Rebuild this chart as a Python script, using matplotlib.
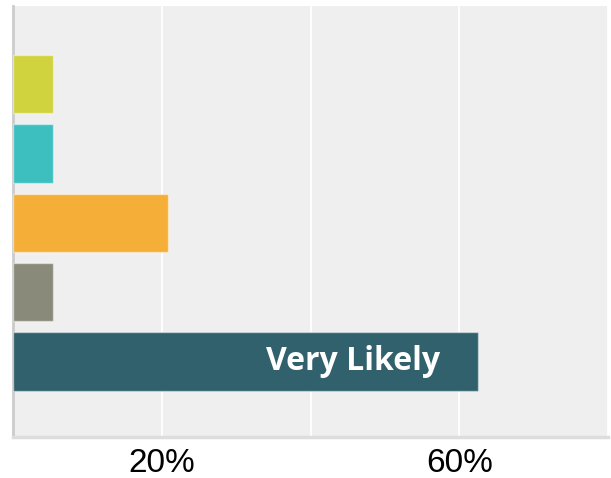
import matplotlib.pyplot as plt

categories = ['Very Unlikely', 'Unlikely', 'Somewhat Likely', 'Not Sure', 'Very Likely']
values = [5.4, 5.4, 20.8, 5.4, 62.5]
colors = ['#d0d33e', '#3dbfc0', '#f5ae37', '#8a8a7b', '#30616c']
ticks = [20, 40, 60, 80]
tick_labels = ['20%', '', '60%', '']

fig = plt.figure(figsize=(6.11, 4.78), dpi=100)
ax = fig.add_axes([13 / 611, 41 / 478, 595 / 611, 431 / 478])
ax.set_facecolor('#efefef')

pos = list(range(len(categories)))
ax.barh(pos, values, height=0.84, color=colors, edgecolor=(1, 1, 1, 0.45), linewidth=1, zorder=3)

for p, v, c in zip(pos, values, categories):
    if v > 30:
        ax.text(v - 5.1, p, c, ha='right', va='center', color='white',
                fontsize=23, fontweight='bold', family='Open Sans', zorder=4)

ax.set_xlim(0, 79.7)
ax.set_ylim(5.09, -1.13)
ax.set_xticks(ticks)
ax.set_xticklabels(tick_labels, fontsize=24, family='Liberation Sans')
ax.set_yticks([])
ax.tick_params(axis='x', length=0, pad=8)
ax.grid(axis='x', color='white', linewidth=1.3, zorder=1)

for s in ['top', 'right']:
    ax.spines[s].set_visible(False)
ax.spines['left'].set_color('#cccccc')
ax.spines['left'].set_linewidth(2)
ax.spines['bottom'].set_color('#dddddd')
ax.spines['bottom'].set_linewidth(2.5)

fig.savefig('out.png', dpi=100)
